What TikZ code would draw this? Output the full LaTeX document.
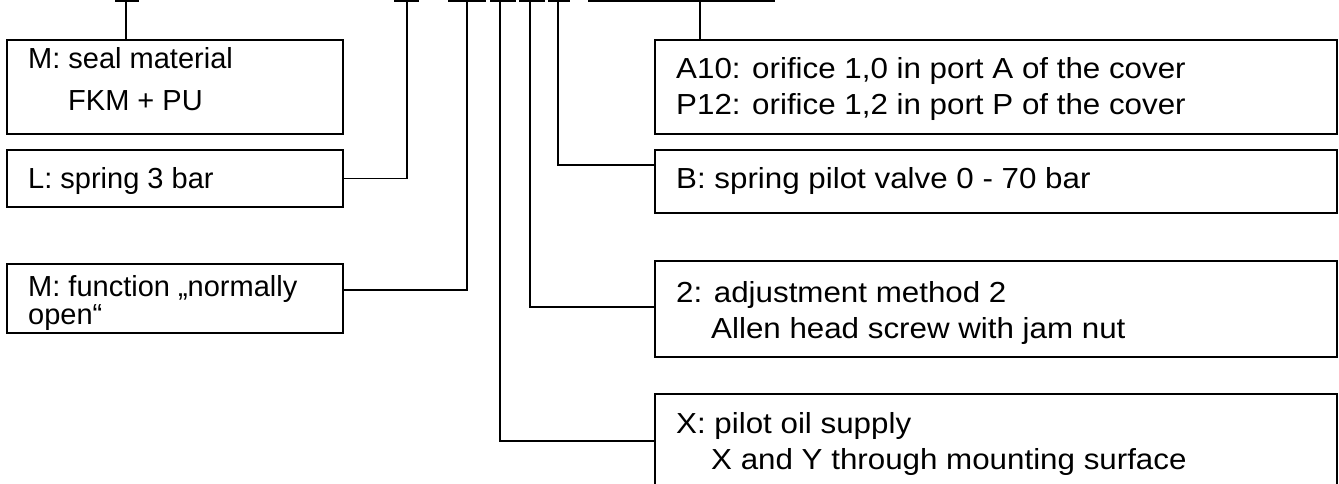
\documentclass[tikz,border=0pt]{standalone}
\usepackage{fontspec}
\setmainfont{Liberation Sans}
\newfontfamily\rfam[FakeStretch=1.08]{Liberation Sans}
\newcommand\lfont{\fontsize{29}{32}\selectfont}
\newcommand\rfont{\rfam\fontsize{29}{32}\selectfont}
\tikzset{
  box/.style={draw, line width=1.8pt, inner sep=0pt, outer sep=0pt, anchor=north west},
  ltxt/.style={anchor=base west, inner sep=0pt, font=\lfont},
  rtxt/.style={anchor=base west, inner sep=0pt, font=\rfont},
  wire/.style={line width=1.8pt},
  bar/.style={line width=2.2pt}
}
\begin{document}
\begin{tikzpicture}[x=1pt,y=-1pt]
\useasboundingbox (0,0) rectangle (1339,484);
\clip (0,0) rectangle (1339,484);
% top code marks
\coordinate (c1) at (126,0);
\coordinate (c2) at (407,0);
\coordinate (c3) at (467,0);
\coordinate (c4) at (500,0);
\coordinate (c5) at (530,0);
\coordinate (c6) at (558,0);
\coordinate (c7) at (700,0);
\draw[bar] (115,1) -- (139,1);
\draw[bar] (394,1) -- (419,1);
\draw[bar] (448,1) -- (486,1);
\draw[bar] (490,1) -- (516,1);
\draw[bar] (519,1) -- (545,1);
\draw[bar] (548,1) -- (570,1);
\draw[bar] (588,1) -- (775,1);
% boxes
\node[box, minimum width=336pt, minimum height=94pt] (bS) at (7,40) {};
\node[box, minimum width=336pt, minimum height=57pt] (bL) at (7,150) {};
\node[box, minimum width=336pt, minimum height=69pt] (bF) at (7,264) {};
\node[box, minimum width=682pt, minimum height=94pt] (bA) at (655,40) {};
\node[box, minimum width=682pt, minimum height=63pt] (bB) at (655,150) {};
\node[box, minimum width=682pt, minimum height=96pt] (b2) at (655,261) {};
\node[box, minimum width=682pt, minimum height=110pt] (bX) at (655,394) {};
% texts
\node[ltxt] (tS1) at (28,68.3) {M: seal material};
\node[ltxt] (tS2) at (68,111) {FKM + PU};
\node[ltxt] (tL) at (28,188.3) {L: spring 3 bar};
\node[ltxt] (tF1) at (28,296.7) {M: function „normally};
\node[ltxt] (tF2) at (28,324.5) {open“};
\node[rtxt] (tA1) at (676,78.3) {A10: orifice 1,0 in port A of the cover};
\node[rtxt] (tA2) at (676,115) {P12: orifice 1,2 in port P of the cover};
\node[rtxt] (tB) at (676,188.3) {B: spring pilot valve 0 - 70 bar};
\node[rtxt] (t21) at (676,302.3) {2: adjustment method 2};
\node[rtxt] (t22) at (711,338.3) {Allen head screw with jam nut};
\node[rtxt] (tX1) at (676,433.3) {X: pilot oil supply};
\node[rtxt] (tX2) at (711,469) {X and Y through mounting surface};
% connectors
\coordinate (e3) at (0,290);
\coordinate (e4) at (0,441);
\coordinate (e5) at (0,307);
\coordinate (e6) at (0,165);
\draw[wire] (c1) -- (c1 |- bS.north);
\draw[wire] (c2) |- (bL.east);
\draw[wire] (c3) |- (bF.east |- e3);
\draw[wire] (c4) |- (bX.west |- e4);
\draw[wire] (c5) |- (b2.west |- e5);
\draw[wire] (c6) |- (bB.west |- e6);
\draw[wire] (c7) -- (c7 |- bA.north);
\end{tikzpicture}
\end{document}
